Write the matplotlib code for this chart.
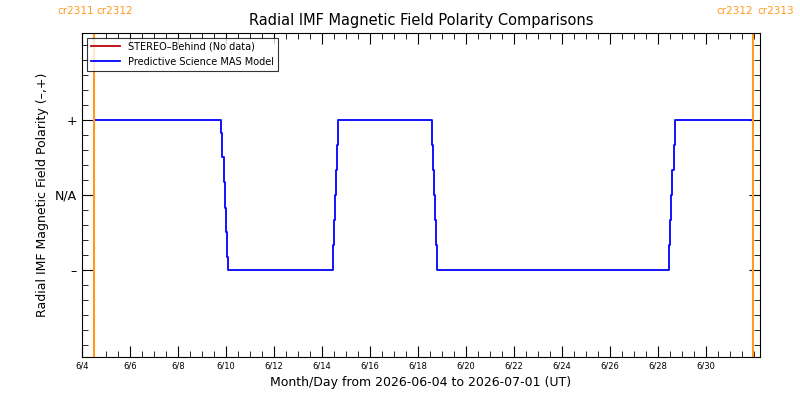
import matplotlib.pyplot as plt
from matplotlib.ticker import MultipleLocator

# days since 2026-06-04 00:00 and polarity (+1 / -1), stair-stepped transitions
days = [0.5, 5.75, 5.80, 5.85, 5.90, 5.95, 6.00, 6.05, 6.08,
        10.42, 10.46, 10.50, 10.54, 10.58, 10.62, 10.67,
        14.54, 14.58, 14.62, 14.66, 14.70, 14.74, 14.79,
        24.42, 24.46, 24.50, 24.55, 24.60, 24.65, 24.71, 27.96]
polarity = [1, 1, 0.83, 0.5, 0.17, -0.17, -0.5, -0.83, -1,
            -1, -0.67, -0.33, 0.0, 0.33, 0.67, 1,
            1, 0.67, 0.33, 0.0, -0.33, -0.67, -1,
            -1, -0.67, -0.33, 0.0, 0.33, 0.67, 1, 1]

tick_days = [0, 2, 4, 6, 8, 10, 12, 14, 16, 18, 20, 22, 24, 26]
tick_labels = ["6/4", "6/6", "6/8", "6/10", "6/12", "6/14", "6/16",
               "6/18", "6/20", "6/22", "6/24", "6/26", "6/28", "6/30"]
cr_lines = [0.5, 27.96]

fig = plt.figure(figsize=(8, 4), dpi=100)
ax = fig.add_axes([0.1025, 0.1075, 0.8475, 0.81])
ax.step(days, polarity, where="post", color="blue", lw=1.3,
        label="Predictive Science MAS Model")
ax.plot([], [], color="#c00000", lw=1.3, label="STEREO\u2013Behind (No data)")
h, l = ax.get_legend_handles_labels()
ax.legend(h[::-1], l[::-1], loc="upper left", fontsize=7, frameon=True,
          fancybox=False, edgecolor="black", borderaxespad=0.5,
          handlelength=3).get_frame().set_linewidth(0.8)
for x in cr_lines:
    ax.axvline(x, color="#ff9a1f", lw=1.5)

ax.set_xlim(0, 28.25)
ax.set_ylim(-2.16, 2.16)
ax.set_xticks(tick_days)
ax.set_xticklabels(tick_labels, fontsize=6)
ax.xaxis.set_minor_locator(MultipleLocator(0.5))
ax.set_yticks([-1, 0, 1])
ax.set_yticklabels(["\u2013", "N/A", "+"], fontsize=9)
ax.yaxis.set_minor_locator(MultipleLocator(0.2))
ax.tick_params(which="both", direction="in", top=True, right=True)
ax.tick_params(which="major", length=8)
ax.tick_params(which="minor", length=4)
ax.set_title("Radial IMF Magnetic Field Polarity Comparisons", fontsize=10.5, pad=6)
ax.set_xlabel("Month/Day from 2026-06-04 to 2026-07-01 (UT)", fontsize=9)
ax.set_ylabel("Radial IMF Magnetic Field Polarity (\u2013,+)", fontsize=9)
fig.text(0.072, 0.965, "cr2311", color="#ff9a1f", fontsize=7.5)
fig.text(0.121, 0.965, "cr2312", color="#ff9a1f", fontsize=7.5)
fig.text(0.895, 0.965, "cr2312", color="#ff9a1f", fontsize=7.5)
fig.text(0.947, 0.965, "cr2313", color="#ff9a1f", fontsize=7.5)
fig.savefig("out.png")
